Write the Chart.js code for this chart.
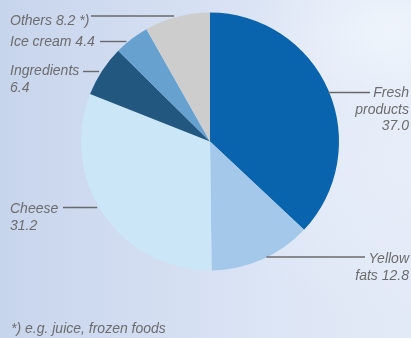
<!DOCTYPE html>
<html>
<head>
<meta charset="utf-8">
<script src="https://cdn.jsdelivr.net/npm/chart.js@4/dist/chart.umd.min.js"></script>
<style>
  html, body { margin: 0; padding: 0; }
  body {
    width: 411px; height: 338px; overflow: hidden;
    background:
      radial-gradient(ellipse 140px 90px at 390px 30px, rgba(240,245,252,0.9), rgba(240,245,252,0) 100%),
      radial-gradient(ellipse 200px 160px at 400px 160px, rgba(232,239,250,0.8), rgba(232,239,250,0) 100%),
      linear-gradient(to right, #c7d5ec 0%, #d2ddf1 35%, #dce5f5 65%, #e3eaf7 100%);
  }
  #wrap { position: absolute; left: 0; top: 0; width: 411px; height: 338px; }
</style>
</head>
<body>
<div id="wrap"><canvas id="c" width="411" height="338"></canvas></div>
<script>
// Sales share by product group, per cent
const categories = ['Fresh products', 'Yellow fats', 'Cheese', 'Ingredients', 'Ice cream', 'Others'];
const shares = [37.0, 12.8, 31.2, 6.4, 4.4, 8.2];
const labelLines = [
  ['Fresh', 'products', '37.0'],
  ['Yellow', 'fats 12.8'],
  ['Cheese', '31.2'],
  ['Ingredients', '6.4'],
  ['Ice cream 4.4'],
  ['Others 8.2 *)']
];
const footnote = '*) e.g. juice, frozen foods';

const sliceColors = ['#0a64ad', '#a3c8ea', '#cbe6f7', '#225780', '#66a1cf', '#cdcdcd'];

// Where each callout sits: text anchor, alignment, leader y and its outer end
const callouts = [
  { side: 'right', tx: 409, ty: 97,  ly: 92.5, outer: 370, gap: -1 },
  { side: 'right', tx: 409, ty: 263, ly: 257,  outer: 365, gap: -1 },
  { side: 'left',  tx: 10,  ty: 213, ly: 207.5, outer: 63, gap: 2 },
  { side: 'left',  tx: 10,  ty: 75,  ly: 71.5, outer: 83, gap: 2.5 },
  { side: 'left',  tx: 10,  ty: 46,  ly: 41.5, outer: 100, gap: 2 },
  { side: 'left',  tx: 10,  ty: 25,  ly: 16,   outer: 91, gap: 6 }
];

const calloutPlugin = {
  id: 'callouts',
  afterDatasetsDraw(chart) {
    const ctx = chart.ctx;
    const meta = chart.getDatasetMeta(0);
    ctx.save();
    ctx.font = 'italic 14px "Liberation Sans", Arial, sans-serif';
    ctx.fillStyle = '#6c6c6c';
    ctx.strokeStyle = '#6a6a6a';
    ctx.lineWidth = 1.4;
    meta.data.forEach((arc, i) => {
      const c = callouts[i];
      const p = arc.getProps(['x', 'y', 'outerRadius'], true);
      const dy = c.ly - p.y;
      const half = Math.sqrt(Math.max(0, p.outerRadius * p.outerRadius - dy * dy));
      const edge = c.side === 'right' ? p.x + half + c.gap : p.x - half - c.gap;
      ctx.beginPath();
      ctx.moveTo(c.outer, c.ly);
      ctx.lineTo(edge, c.ly);
      ctx.stroke();
      ctx.textAlign = c.side === 'right' ? 'right' : 'left';
      ctx.textBaseline = 'alphabetic';
      labelLines[i].forEach((t, k) => {
        ctx.fillText(t, c.tx, c.ty + k * 16.5);
      });
    });
    ctx.textAlign = 'left';
    ctx.fillText(footnote, 11, 333);
    ctx.restore();
  }
};

new Chart(document.getElementById('c'), {
  type: 'pie',
  data: {
    labels: categories,
    datasets: [{
      data: shares,
      backgroundColor: sliceColors,
      borderWidth: 0
    }]
  },
  options: {
    responsive: false,
    animation: false,
    layout: { padding: { left: 81, right: 72, top: 12.5, bottom: 67.5 } },
    plugins: {
      legend: { display: false },
      tooltip: { enabled: false }
    }
  },
  plugins: [calloutPlugin]
});
</script>
</body>
</html>
